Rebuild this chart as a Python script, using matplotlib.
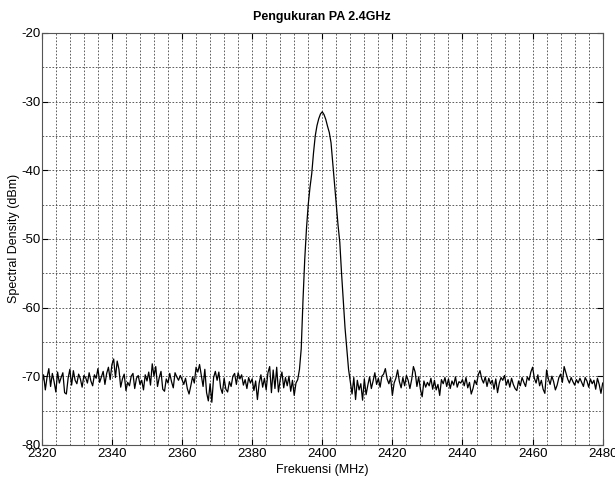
import numpy as np
import matplotlib
matplotlib.use('Agg')
import matplotlib.pyplot as plt
from matplotlib.ticker import MultipleLocator

# spectrum trace, 0.5 MHz steps from 2320 to 2480 MHz
density = [
    -71.2, -69.8, -72.0, -70.1, -68.9, -71.5, -69.6, -70.8, -72.3, -69.4, -71.0, -70.2, -69.5, -72.4, -72.6, -70.3, -69.0, -71.3, -69.2, -70.6,
    -71.1, -69.7, -70.4, -71.6, -69.9, -70.2, -71.0, -69.5, -70.7, -71.4, -69.8, -70.3, -68.9, -70.9, -70.1, -69.3, -71.2, -69.6, -68.7, -70.5,
    -68.3, -67.5, -70.2, -67.8, -69.0, -71.6, -70.4, -69.7, -72.1, -70.9, -71.4, -70.0, -69.6, -71.8, -70.3, -69.9, -71.2, -70.6, -72.0, -69.8,
    -70.7, -69.4, -71.3, -68.2, -70.0, -68.6, -71.5, -70.2, -69.3, -71.9, -72.2, -70.4, -71.0, -69.6, -70.8, -71.7, -69.5, -70.1, -70.6, -69.9,
    -70.5, -71.2, -70.3, -71.8, -72.6, -71.4, -70.1, -71.0, -68.7, -69.4, -68.3, -69.9, -71.5, -69.0, -72.4, -73.6, -71.1, -73.8, -70.2, -69.3,
    -70.6, -69.4, -71.7, -72.5, -70.3, -71.9, -72.3, -70.8, -71.5, -70.0, -69.6, -71.2, -69.5, -70.4, -69.8, -71.3, -70.5, -71.8, -70.2, -71.0,
    -70.4, -72.1, -70.7, -73.4, -71.0, -69.8, -71.6, -70.3, -72.0, -69.5, -68.6, -72.4, -69.1, -71.8, -68.7, -72.3, -70.5, -69.4, -71.7, -70.2,
    -71.4, -70.0, -72.2, -70.6, -72.8, -71.0, -70.5, -69.0, -66.0, -59.0, -53.0, -48.5, -45.0, -42.5, -40.5, -37.5, -35.0, -33.5, -32.5, -31.8,
    -31.5, -31.9, -32.6, -33.6, -34.5, -36.0, -39.0, -42.0, -45.0, -48.0, -50.5, -55.0, -59.0, -63.0, -66.0, -69.0, -70.8, -72.6, -70.2, -73.4,
    -70.6, -72.0, -71.1, -73.5, -70.4, -72.7, -71.3, -70.1, -71.8, -70.7, -69.5, -71.2, -70.3, -71.6, -70.0, -69.7, -68.9, -70.4, -71.1, -70.2,
    -72.8, -71.0, -70.3, -69.1, -70.8, -71.7, -70.2, -71.4, -69.9, -70.6, -71.8, -70.5, -68.6, -69.4, -71.5, -70.1, -71.9, -73.0, -70.7, -71.6,
    -70.9, -71.4, -70.3, -71.9, -70.6, -72.0, -71.2, -72.8, -70.5, -71.1, -70.2, -71.5, -70.4, -71.8, -70.7, -71.3, -70.1, -71.6, -70.8, -71.0,
    -70.5, -71.4, -70.2, -71.7, -70.9, -72.6, -71.8, -70.6, -71.2, -69.8, -69.2, -70.4, -71.0, -70.1, -71.5, -70.3, -71.1, -70.6, -71.9, -70.4,
    -72.4, -71.0, -70.2, -70.6, -69.9, -71.3, -70.5, -71.6, -70.3, -71.2, -71.8, -72.1, -70.7, -71.4, -70.2, -70.9, -71.5, -70.1, -70.6, -69.4,
    -68.7, -70.3, -71.0, -69.8, -71.4, -70.6, -71.9, -72.5, -69.1, -70.4, -71.2, -70.0, -70.8, -72.0, -71.3, -70.2, -69.7, -70.9, -68.6, -69.5,
    -70.4, -71.0, -70.2, -70.8, -71.3, -70.5, -71.0, -70.3, -70.9, -71.5, -70.2, -70.7, -71.6, -70.4, -71.1, -70.6, -71.9, -70.3, -71.2, -72.5,
    -71.0,
]
freq = np.linspace(2320, 2480, len(density))

x_ticks = [2320, 2340, 2360, 2380, 2400, 2420, 2440, 2460, 2480]
y_ticks = [-80, -70, -60, -50, -40, -30, -20]

plt.rcParams['font.family'] = ['Liberation Sans', 'DejaVu Sans']
plt.rcParams['axes.unicode_minus'] = False  # plain hyphen like the original

fig = plt.figure(figsize=(6.15, 4.83), dpi=100)
ax = fig.add_axes([0.068, 0.079, 0.912, 0.853])

ax.plot(freq, density, color='black', linewidth=0.9)

ax.set_xlim(2320, 2480)
ax.set_ylim(-80, -20)
ax.set_xticks(x_ticks)
ax.set_yticks(y_ticks)
ax.xaxis.set_minor_locator(MultipleLocator(4))
ax.yaxis.set_minor_locator(MultipleLocator(5))

# matlab style dotted grid, major + minor
ax.grid(True, which='both', linestyle=(0, (2, 2)), color='#444444', linewidth=0.6)
ax.tick_params(which='major', direction='in', length=4, top=True, right=True,
               labelsize=9.5, colors='black')
ax.tick_params(axis='x', which='major', pad=2.5)
ax.tick_params(axis='y', which='major', pad=1)
ax.tick_params(which='minor', length=0)
for s in ax.spines.values():
    s.set_color('#555555')
    s.set_linewidth(0.8)

ax.set_title('Pengukuran PA 2.4GHz', fontsize=9, fontweight='bold', pad=9)
ax.set_xlabel('Frekuensi (MHz)', fontsize=9, labelpad=3)
ax.set_ylabel('Spectral Density (dBm)', fontsize=9, labelpad=1)

fig.savefig('out.png', dpi=100)
